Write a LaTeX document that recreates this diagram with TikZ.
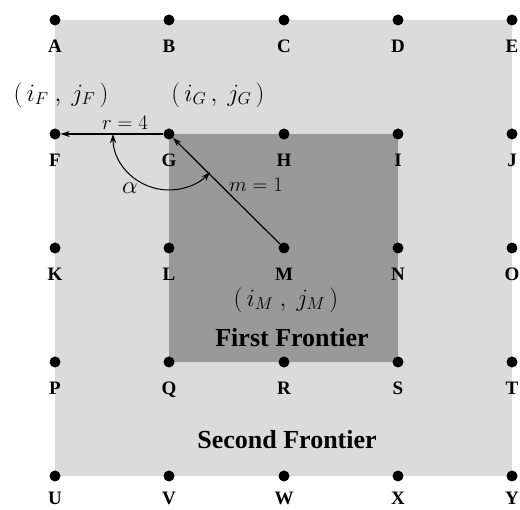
\documentclass[tikz,border=0pt]{standalone}
\usepackage{fontspec}
\setmainfont{Liberation Serif}
\usetikzlibrary{arrows.meta}
\begin{document}
\begin{tikzpicture}[x=1pt,y=1pt,
  dot/.style={circle,fill=black,minimum size=11pt,inner sep=0pt,
    label={[font=\fontsize{19}{19}\selectfont\bfseries,inner sep=0pt,label distance=14pt]below:#1}},
  botdot/.style={circle,fill=black,minimum size=11pt,inner sep=0pt,
    label={[font=\fontsize{19}{19}\selectfont\bfseries,inner sep=0pt,label distance=10pt]below:#1}},
  conn/.style={line width=1.2pt,-{Stealth[length=9pt,width=6pt]}},
  mathlbl/.style={font=\fontsize{24}{30}\selectfont,inner sep=0pt},
  frontier/.style={font=\fontsize{26}{30}\selectfont\bfseries,inner sep=0pt}]
\useasboundingbox (0,0) rectangle (520,510);
\fill[white] (0,0) rectangle (520,510);
\fill[gray!28] (55,490) rectangle (512,34);
\fill[black!40] (169,376) rectangle (398,148);
% grid points
\node[dot=A] (A) at (55,490) {};
\node[dot=B] (B) at (169,490) {};
\node[dot=C] (C) at (284,490) {};
\node[dot=D] (D) at (398,490) {};
\node[dot=E] (E) at (512,490) {};
\node[dot=F] (F) at (55,376) {};
\node[dot=G] (G) at (169,376) {};
\node[dot=H] (H) at (284,376) {};
\node[dot=I] (I) at (398,376) {};
\node[dot=J] (J) at (512,376) {};
\node[dot=K] (K) at (55,262) {};
\node[dot=L] (L) at (169,262) {};
\node[dot=M] (M) at (284,262) {};
\node[dot=N] (N) at (398,262) {};
\node[dot=O] (O) at (512,262) {};
\node[dot=P] (P) at (55,148) {};
\node[dot=Q] (Q) at (169,148) {};
\node[dot=R] (R) at (284,148) {};
\node[dot=S] (S) at (398,148) {};
\node[dot=T] (T) at (512,148) {};
\node[botdot=U] (U) at (55,34) {};
\node[botdot=V] (V) at (169,34) {};
\node[botdot=W] (W) at (284,34) {};
\node[botdot=X] (X) at (398,34) {};
\node[botdot=Y] (Y) at (512,34) {};
% connectors
\draw[conn] (G) -- (F);
\draw[conn] (M) -- (G);
\coordinate (arcS) at (113,376);
\draw[line width=1pt,{Stealth[length=9pt,width=6pt]}-{Stealth[length=9pt,width=6pt]}]
  (arcS) arc[start angle=180,end angle=317,radius=56];
% labels
\node[mathlbl] (lF) at (61,415) {$\Bigl(\,i_F\ ,\ j_F\,\Bigr)$};
\node[mathlbl] (lG) at (218,415) {$\Bigl(\,i_G\, ,\ j_G\,\Bigr)$};
\node[mathlbl] (lM) at (286,210) {$\Bigl(\,i_M\ ,\ j_M\,\Bigr)$};
\node[font=\fontsize{22}{24}\selectfont,inner sep=0pt] (lr) at (125,387) {$r=4$};
\node[font=\fontsize{22}{24}\selectfont,inner sep=0pt] (lm) at (256,325) {$m=1$};
\node[font=\fontsize{24}{26}\selectfont,inner sep=0pt] (la) at (130,322) {$\alpha$};
\node[frontier] (ff) at (292,172) {First Frontier};
\node[frontier] (sf) at (287,70) {Second Frontier};
\end{tikzpicture}
\end{document}
